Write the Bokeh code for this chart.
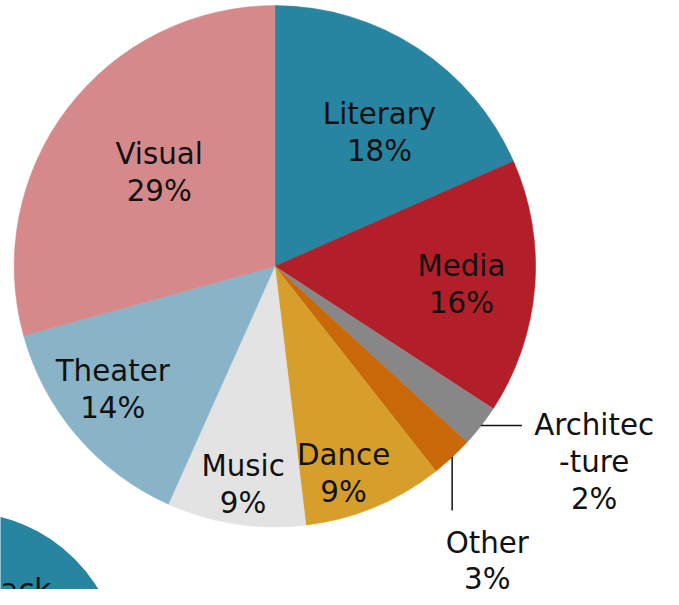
import math
from bokeh.plotting import figure
from bokeh.models import Range1d, ColumnDataSource
from bokeh.core.properties import value
from bokeh.embed import file_html
from bokeh.resources import INLINE

# ---- data ----
categories = ["Literary", "Media", "Architecture", "Other", "Dance", "Music", "Theater", "Visual"]
shares = [18.4, 15.8, 2.6, 2.6, 8.7, 8.6, 14.0, 29.3]
pct_labels = ["18%", "16%", "2%", "3%", "9%", "9%", "14%", "29%"]
name_labels = ["Literary", "Media", "Architec\n-ture", "Other", "Dance", "Music", "Theater", "Visual"]
colors = ["#2785A1", "#B21F28", "#878787", "#C86808", "#D69E2B", "#E3E3E3", "#89B4C8", "#D6898A"]

# ---- layout (reference coordinates: data y = H - screen y) ----
W, H = 679, 605
PW, PH = 663, 589
scale = PW / W
FONT = "DejaVu Sans"
FS = f"{30 * scale:.1f}px"
LINE = 38
cx, cy = 281, H - 273
R = 267

# label placement per slice: radius and angle tweak (deg); None => outside label
label_r = [174, 192, None, None, 224, 227, 209, 153]
label_da = [-4.9, -1.0, 0, 0, -4.2, 0.4, -3.3, -2.0]

p = figure(width=PW, height=PH, output_backend="svg", toolbar_location=None,
           x_range=Range1d(0, W), y_range=Range1d(0, H), min_border=0)
p.axis.visible = False
p.grid.visible = False
p.outline_line_color = None
p.background_fill_color = "white"

# wedges
total = sum(shares)
starts, ends, mids = [], [], []
cum = 0.0
for s in shares:
    a0 = math.pi / 2 - cum / total * 2 * math.pi
    cum += s
    a1 = math.pi / 2 - cum / total * 2 * math.pi
    starts.append(a0)
    ends.append(a1)
    mids.append((a0 + a1) / 2)

src = ColumnDataSource(dict(start=starts, end=ends, color=colors, cat=categories))
p.wedge(x=cx, y=cy, radius=R, start_angle="start", end_angle="end", direction="clock",
        fill_color="color", line_color="color", line_width=0.5, source=src)

# in-slice labels
tx, ty, tt = [], [], []
for i in range(len(categories)):
    if label_r[i] is None:
        continue
    a = mids[i] + math.radians(label_da[i])
    ax = cx + label_r[i] * math.cos(a)
    ay = cy + label_r[i] * math.sin(a)
    lines = [name_labels[i], pct_labels[i]]
    n = len(lines)
    for k, t in enumerate(lines):
        tx.append(ax)
        ty.append(ay + (n - 1) * LINE / 2 - k * LINE)
        tt.append(t)

# outside labels with leader lines
i_arch = categories.index("Architecture")
a = mids[i_arch]
ex, ey = cx + R * math.cos(a), cy + R * math.sin(a)
p.line([ex, ex + 42], [ey, ey], line_color="#111111", line_width=1.5)
alines = name_labels[i_arch].split("\n") + [pct_labels[i_arch]]
for k, t in enumerate(alines):
    tx.append(ex + 42 + 74)
    ty.append(ey + 1 - k * LINE)
    tt.append(t)

i_oth = categories.index("Other")
a = mids[i_oth]
ex, ey = cx + R * math.cos(a), cy + R * math.sin(a)
p.line([ex, ex], [ey, ey - 55], line_color="#111111", line_width=1.5)
olines = [name_labels[i_oth], pct_labels[i_oth]]
for k, t in enumerate(olines):
    tx.append(ex + 36)
    ty.append(ey - 88 - k * (LINE - 1))
    tt.append(t)

p.text(x=tx, y=ty, text=tt, text_align="center", text_baseline="alphabetic",
       text_font=value(FONT), text_font_size=FS, text_color="#111111")

# partial "Back" button circle at bottom-left
p.circle(x=[-40], y=[H - 690], radius=164, fill_color="#2785A1", line_color=None)
p.text(x=[52], y=[H - 605], text=["Back"], text_align="right", text_baseline="alphabetic",
       text_font=value(FONT), text_font_size=FS, text_color="#111111")

open("out.html", "w").write(file_html(p, INLINE))
